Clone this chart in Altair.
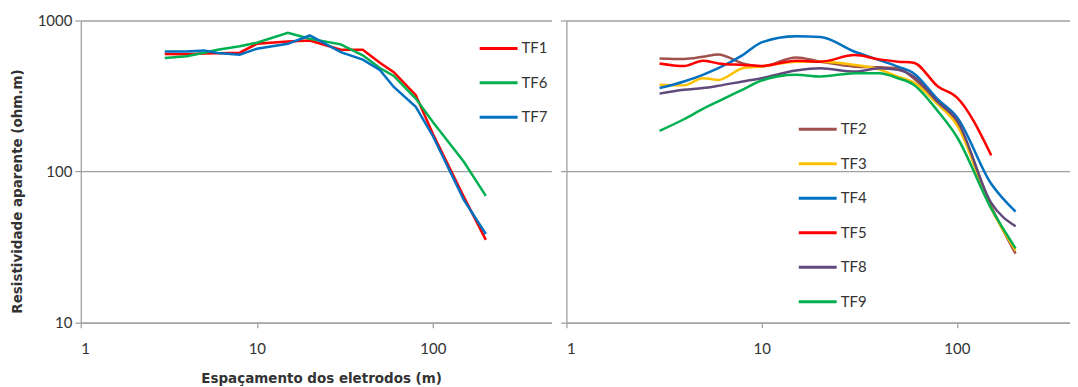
import altair as alt
import pandas as pd

# ---------------- data ----------------
spacing = [3, 4, 5, 6, 8, 10, 15, 20, 30, 40, 50, 60, 80, 100, 150, 200]

left_series = ["TF1", "TF6", "TF7"]
tf1 = [600, 598, 605, 608, 612, 701, 727, 738, 641, 641, 525, 455, 320, 178, 68, 35.3]
tf6 = [564, 580, 612, 641, 676, 713, 829, 757, 695, 588, 485, 430, 304, 213, 116, 69]
tf7 = [624, 624, 634, 610, 594, 650, 701, 796, 618, 551, 470, 363, 268, 172, 65, 38.6]
left_colors = ["#ff0000", "#00b050", "#0070c0"]

right_series = ["TF2", "TF3", "TF4", "TF5", "TF8", "TF9"]
tf2 = [561, 556, 575, 596, 520, 496, 570, 534, 495, 490, 483, 415, 288, 214, 59, 28.6]
tf3 = [376, 372, 415, 404, 483, 496, 534, 534, 508, 475, 425, 390, 278, 204, 57, 30]
tf4 = [357, 395, 437, 483, 590, 716, 786, 778, 621, 547, 495, 448, 300, 230, 83, 54.3]
tf5 = [520, 500, 542, 520, 508, 500, 542, 534, 590, 553, 534, 526, 366, 310, 128]
tf8 = [328, 348, 357, 370, 395, 415, 466, 483, 459, 483, 471, 426, 288, 219, 62, 43.4]
tf9 = [186, 222, 260, 292, 349, 401, 437, 426, 448, 448, 415, 376, 251, 170, 57, 31]
right_colors = ["#a0504d", "#ffc000", "#0070c0", "#ff0000", "#604a7b", "#00b050"]

x_ticks = [1, 10, 100]
y_ticks = [10, 100, 1000]


def long_table(names, arrays):
    rows = []
    for name, vals in zip(names, arrays):
        for x, v in zip(spacing, vals):
            rows.append({"espacamento": x, "resistividade": v, "serie": name})
    return pd.DataFrame(rows)


df_left = long_table(left_series, [tf1, tf6, tf7])
df_right = long_table(right_series, [tf2, tf3, tf4, tf5, tf8, tf9])

FONT = "Lato"
TITLE_FONT = "DejaVu Sans"
GRAY = "#a0a0a0"
TXT = "#333333"

y_scale = alt.Scale(type="log", domain=[10, 1000], nice=False)


def legend(lx, ly, rowpad):
    return alt.Legend(
        title=None, orient="none", legendX=lx, legendY=ly,
        symbolType="M-2,0H2", symbolSize=361, symbolStrokeWidth=3,
        labelFont=FONT, labelFontSize=15, labelColor=TXT, labelOffset=12,
        rowPadding=rowpad, padding=0,
    )


left = alt.Chart(df_left).mark_line(strokeWidth=2.5, interpolate="linear").encode(
    x=alt.X("espacamento:Q",
            scale=alt.Scale(type="log", domain=[1, 472], nice=False),
            axis=alt.Axis(values=x_ticks, format="d", grid=False, tickSize=5,
                          labelPadding=14, title="Espaçamento dos eletrodos (m)",
                          titleX=241, titleY=49, titleBaseline="top")),
    y=alt.Y("resistividade:Q", scale=y_scale,
            axis=alt.Axis(values=y_ticks, format="d", grid=True, tickSize=6,
                          labelPadding=3, title="Resistividade aparente (ohm.m)",
                          titleAngle=-90, titleX=-63, titleY=171,
                          titleBaseline="middle", titleAlign="center")),
    color=alt.Color("serie:N",
                    scale=alt.Scale(domain=left_series, range=left_colors),
                    legend=legend(408, 17, 15.5)),
).properties(width=472, height=303)

right = alt.Chart(df_right).mark_line(strokeWidth=2.5, interpolate="monotone").encode(
    x=alt.X("espacamento:Q",
            scale=alt.Scale(type="log", domain=[1, 380], nice=False),
            axis=alt.Axis(values=x_ticks, format="d", grid=False, tickSize=5,
                          labelPadding=14, title=None)),
    y=alt.Y("resistividade:Q", scale=y_scale,
            axis=alt.Axis(values=y_ticks, grid=True, tickSize=6, labels=False,
                          title=None)),
    color=alt.Color("serie:N",
                    scale=alt.Scale(domain=right_series, range=right_colors),
                    legend=legend(241, 98, 15.6)),
).properties(width=505, height=303)

chart = alt.hconcat(left, right, spacing=8).resolve_scale(
    x="independent", y="independent", color="independent"
).resolve_legend(color="independent").properties(
    padding={"left": 3, "top": 5, "right": 0, "bottom": 0}
).configure_view(strokeWidth=0).configure_axis(
    labelFont=FONT, labelFontSize=15, labelColor=TXT,
    titleFont=TITLE_FONT, titleFontSize=13.5, titleFontWeight="bold", titleColor=TXT,
    domainColor=GRAY, domainWidth=1.3, tickColor=GRAY, tickWidth=1.3,
    gridColor=GRAY, gridWidth=1.3, gridOpacity=1,
)

chart.save("out.html", embed_options={"renderer": "svg", "actions": False})
